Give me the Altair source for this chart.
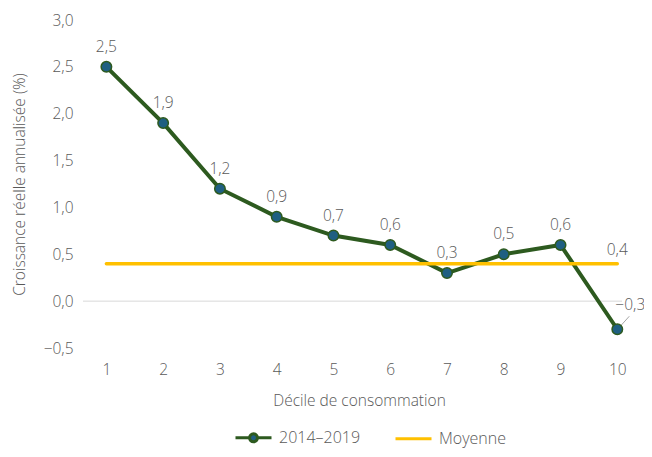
import altair as alt
import pandas as pd

deciles = [1, 2, 3, 4, 5, 6, 7, 8, 9, 10]
growth = [2.5, 1.9, 1.2, 0.9, 0.7, 0.6, 0.3, 0.5, 0.6, -0.3]
average = 0.4
series_names = ["2014–2019", "Moyenne"]
y_ticks = [-0.5, 0.0, 0.5, 1.0, 1.5, 2.0, 2.5, 3.0]

GREEN = "#2d5a1f"
BLUE = "#1f5f82"
YELLOW = "#ffc000"
TXT = "#595959"
FONT = "Open Sans"
FS = 15.5
FW = 300

df = pd.DataFrame({"decile": deciles, "value": growth, "series": series_names[0]})
avg_df = pd.DataFrame({"decile": deciles, "value": [average] * len(deciles), "series": series_names[1]})
both_df = pd.concat([df, avg_df], ignore_index=True)

fmt = "replace(format(datum.value, '.1f'), '.', ',')"

x = alt.X("decile:Q", scale=alt.Scale(domain=[0.5, 10.4], nice=False, zero=False),
          axis=alt.Axis(values=deciles, format="d", ticks=False, domain=False, grid=False,
                        labelPadding=14, labelFontSize=FS, labelColor=TXT, labelFont=FONT,
                        labelFontWeight=FW,
                        title="Décile de consommation", titleFontSize=FS, titleFont=FONT,
                        titleColor=TXT, titleFontWeight=FW, titlePadding=16))
y = alt.Y("value:Q", scale=alt.Scale(domain=[-0.5, 3.0], nice=False),
          axis=alt.Axis(values=y_ticks, labelExpr=fmt, ticks=False, domain=False, grid=False,
                        labelPadding=5, labelFontSize=FS, labelColor=TXT, labelFont=FONT,
                        labelFontWeight=FW,
                        title="Croissance réelle annualisée (%)", titleFontSize=FS, titleFont=FONT,
                        titleColor=TXT, titleFontWeight=FW, titlePadding=16))

shape_line_dot = "M-1,0L-0.22,0M0.22,0L1,0M-0.22,0A0.22,0.22,0,1,1,0.22,0A0.22,0.22,0,1,1,-0.22,0Z"
shape_line = "M-1,0L1,0"

leg = alt.Legend(orient="none", legendX=156, legendY=398, direction="horizontal",
                 title=None, symbolSize=1296, symbolStrokeWidth=3, symbolOpacity=1,
                 labelFontSize=16, labelColor=TXT, labelFont=FONT, labelFontWeight=FW,
                 labelOffset=6, columnPadding=28)

stroke_scale = alt.Scale(domain=series_names, range=[GREEN, YELLOW])

zero_line = alt.Chart(pd.DataFrame({"v": [0.0]})).mark_rule(color="#d9d9d9", strokeWidth=1).encode(
    y=alt.datum(0.0), x=alt.value(5), x2=alt.value(544))

line = alt.Chart(df).mark_line(strokeWidth=4).encode(
    x=x, y=y, stroke=alt.Stroke("series:N", scale=stroke_scale, legend=leg))

avg_line = alt.Chart(avg_df).mark_line(strokeWidth=3.5, strokeCap="round").encode(
    x="decile:Q", y="value:Q", stroke=alt.Stroke("series:N", legend=leg))

legend_layer = alt.Chart(both_df).transform_filter("false").mark_point(filled=True).encode(
    x="decile:Q", y="value:Q",
    stroke=alt.Stroke("series:N", legend=leg),
    fill=alt.Fill("series:N", scale=alt.Scale(domain=series_names, range=[BLUE, YELLOW]), legend=leg),
    shape=alt.Shape("series:N", scale=alt.Scale(domain=series_names, range=[shape_line_dot, shape_line]),
                    legend=leg))

points = alt.Chart(df).mark_point(filled=True, size=110, fill=BLUE, stroke=GREEN,
                                  strokeWidth=1.5, opacity=1).encode(x="decile:Q", y="value:Q")

labels = alt.Chart(df).transform_filter("datum.decile < 10").transform_calculate(
    lab=fmt).mark_text(dy=-20, fontSize=FS, color=TXT, font=FONT, fontWeight=FW).encode(
    x="decile:Q", y="value:Q", text="lab:N")

last_label = alt.Chart(df).transform_filter("datum.decile == 10").transform_calculate(
    lab=fmt).mark_text(dx=13, dy=-24, fontSize=FS, color=TXT, font=FONT, fontWeight=FW).encode(
    x="decile:Q", y="value:Q", text="lab:N")

leader = alt.Chart(df).transform_filter("datum.decile == 10").mark_rule(
    color="#a6a6a6", strokeWidth=1, xOffset=3, yOffset=-3, x2Offset=12, y2Offset=-13).encode(
    x="decile:Q", x2="decile:Q", y="value:Q", y2="value:Q")

avg_label = alt.Chart(avg_df).transform_filter("datum.decile == 10").transform_calculate(
    lab=fmt).mark_text(dy=-14, fontSize=FS, color=TXT, font=FONT, fontWeight=FW).encode(
    x="decile:Q", y="value:Q", text="lab:N")

chart = alt.layer(zero_line, line, avg_line, legend_layer, leader, points, labels, last_label,
                  avg_label).properties(
    width=562, height=328,
    padding={"left": 70, "top": 12, "right": 4, "bottom": 101},
    autosize=alt.AutoSizeParams(type="none"),
).configure(font=FONT).configure_view(stroke="transparent", strokeWidth=0).configure_axis(
    domain=False, ticks=False, grid=False
)

chart.save("out.html", embed_options={"renderer": "svg", "actions": False})
